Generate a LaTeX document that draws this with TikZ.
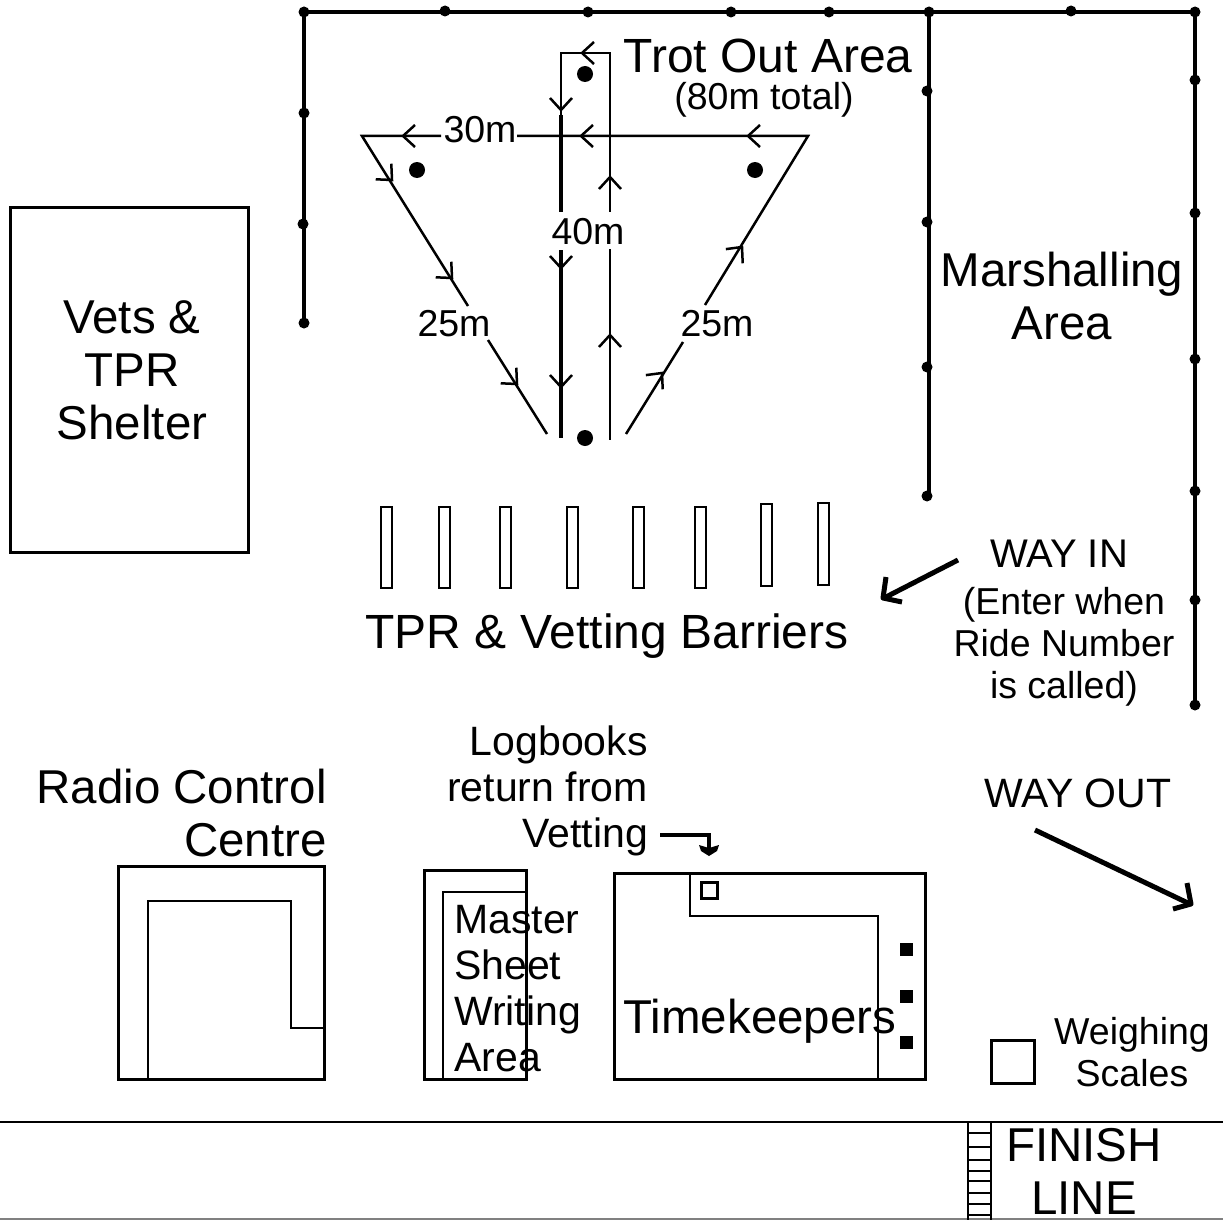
\documentclass[tikz,border=0pt]{standalone}
\usepackage{fontspec}
\setmainfont{Liberation Sans}
\tikzset{
  fence/.style={line width=4.5pt},
  waymark/.style={line width=5pt, line join=round},
  box/.style={line width=3pt},
  thinbox/.style={line width=2pt},
  route/.style={line width=2.5pt},
  routethick/.style={line width=3.5pt},
  txtbig/.style={inner sep=0pt, align=center, font=\fontsize{47.5}{53}\selectfont},
  txtmid/.style={inner sep=0pt, align=center, font=\fontsize{41}{46}\selectfont},
  txtsmall/.style={inner sep=0pt, align=center, font=\fontsize{37.5}{42}\selectfont},
}
\begin{document}
\begin{tikzpicture}[x=1pt, y=-1pt, >=stealth]
    \useasboundingbox (0,0) rectangle (1223,1220);

    % Fences
    \draw[fence] (304,323) -- (304,12) -- (1195,12) -- (1195,705);
    \draw[fence] (929,12) -- (929,496);
    \foreach \px/\py in {304/12, 445/11, 588/12, 731/12, 829/12, 929/12, 1071/11, 1195/12,
        304/113, 303/224, 304/323, 927/91, 927/222, 927/367, 927/496,
        1195/80, 1195/213, 1195/359, 1195/491, 1195/600, 1195/705}
        \fill (\px,\py) circle (5.5);

    % Trot out triangle
    \draw[route] (468,306) -- (362,136) -- (441,136);
    \draw[route] (517,136) -- (808,136) -- (705,305);
    \draw[route] (488,340) -- (547,434);
    \draw[route] (683,342) -- (626,434);

    % Out and back
    \draw[route] (561,115) -- (561,53) -- (610,53) -- (610,212);
    \draw[routethick] (561,115) -- (561,212);
    \draw[routethick] (561,250) -- (561,438);
    \draw[route] (610,249) -- (610,440);

    % Turn markers
    \foreach \px/\py in {585/74, 417/170, 755/170, 585/438}
        \fill (\px,\py) circle (8);

    % Direction marks
    \foreach \px/\py/\ang in {582/53/180, 403/136/180, 581/136/180, 748/136/180,
        561/110/-90, 561/268/-90, 561/387/-90, 610/177/90, 610/335/90,
        392/180/-45, 452/278/-45, 517/384/-45, 742/247/50, 662/373/50}
        \draw[route, shift={(\px,\py)}, rotate=\ang] (-12,11) -- (0,0) -- (-12,-11);

    \node[txtsmall] (distTop) at (480,130) {30m};
    \node[txtsmall] (distCentre) at (588,232) {40m};
    \node[txtsmall] (distLeft) at (454,324) {25m};
    \node[txtsmall] (distRight) at (717,324) {25m};
    \node[txtbig, anchor=base, font=\fontsize{48}{53}\selectfont] (trotTitle) at (768,73) {Trot Out Area};
    \node[txtsmall, anchor=base] (trotTotal) at (764,110) {(80m total)};

    % Vets shelter
    \draw[box] (10,207) rectangle (248,552);
    \node[txtbig] (vets) at (132,370) {Vets \&\\TPR\\Shelter};

    \node[txtbig] (marshalling) at (1062,296) {Marshalling\\Area};

    % Barriers
    \foreach \px/\pya/\pyb in {381/507/588, 439/507/588, 500/507/588, 567/507/588,
        633/507/588, 695/507/588, 761/504/586, 818/503/585}
        \draw[thinbox] (\px,\pya) rectangle ++(11,\pyb-\pya);
    \node[txtbig, anchor=base, font=\fontsize{48}{53}\selectfont] (barriers) at (607,648) {TPR \& Vetting Barriers};

    % Way in
    \node[txtmid, anchor=base, font=\fontsize{40}{46}\selectfont] (wayIn) at (1059,567) {WAY IN};
    \node[txtsmall] (wayInNote) at (1064,647) {(Enter when\\Ride Number\\is called)};
    \draw[waymark] (958,560) -- (884,598);
    \draw[waymark] (886,577) -- (883,598) -- (902,602);

    % Way out
    \node[txtmid, anchor=base] (wayOut) at (1078,807) {WAY OUT};
    \draw[waymark] (1035,830) -- (1190,904);
    \draw[waymark] (1187,883) -- (1191,904) -- (1173,909);

    % Radio control
    \node[txtbig, align=right, anchor=east] (radio) at (327,813) {Radio Control\\Centre};
    \draw[box] (118,866) rectangle (324,1079);
    \draw[thinbox] (148,1079) -- (148,901) -- (291,901) -- (291,1028) -- (324,1028);

    % Master sheet
    \draw[box] (424,870) rectangle (526,1079);
    \draw[thinbox] (443,1079) -- (443,892) -- (526,892);
    \node[txtmid, align=left, anchor=west] (master) at (454,989) {Master\\Sheet\\Writing\\Area};

    % Logbooks
    \node[txtmid, align=right, anchor=east] (logbooks) at (648,791) {Logbooks\\return from\\Vetting};
    \draw[fence] (660,835) -- (709,835) -- (709,848);
    \fill (699,845) -- (709,848) -- (719,845) -- (717,851) -- (709,856) -- (701,851) -- cycle;

    % Timekeepers
    \draw[box] (614,873) rectangle (925,1079);
    \draw[thinbox] (690,873) -- (690,916) -- (878,916) -- (878,1079);
    \draw[box] (701,882) rectangle (717,898);
    \foreach \py in {949,996,1042}
        \fill (899.5,\py-6.5) rectangle ++(13,13);
    \node[txtbig, anchor=base] (timekeepers) at (760,1033) {Timekeepers};

    % Weighing scales
    \draw[box] (991,1040) rectangle (1034,1083);
    \node[txtsmall] (scales) at (1132,1052) {Weighing\\Scales};

    % Finish line
    \draw[thinbox] (0,1122) -- (1223,1122);
    \draw[thinbox, gray] (0,1219) -- (1223,1219);
    \draw[route] (968,1122) -- (968,1220);
    \draw[route] (991,1122) -- (991,1220);
    \foreach \py in {1133,1147,1160,1171,1181,1193,1204,1215}
        \draw[route] (968,\py) -- (991,\py);
    \node[txtbig] (finish) at (1084,1171) {FINISH\\LINE};
\end{tikzpicture}
\end{document}
